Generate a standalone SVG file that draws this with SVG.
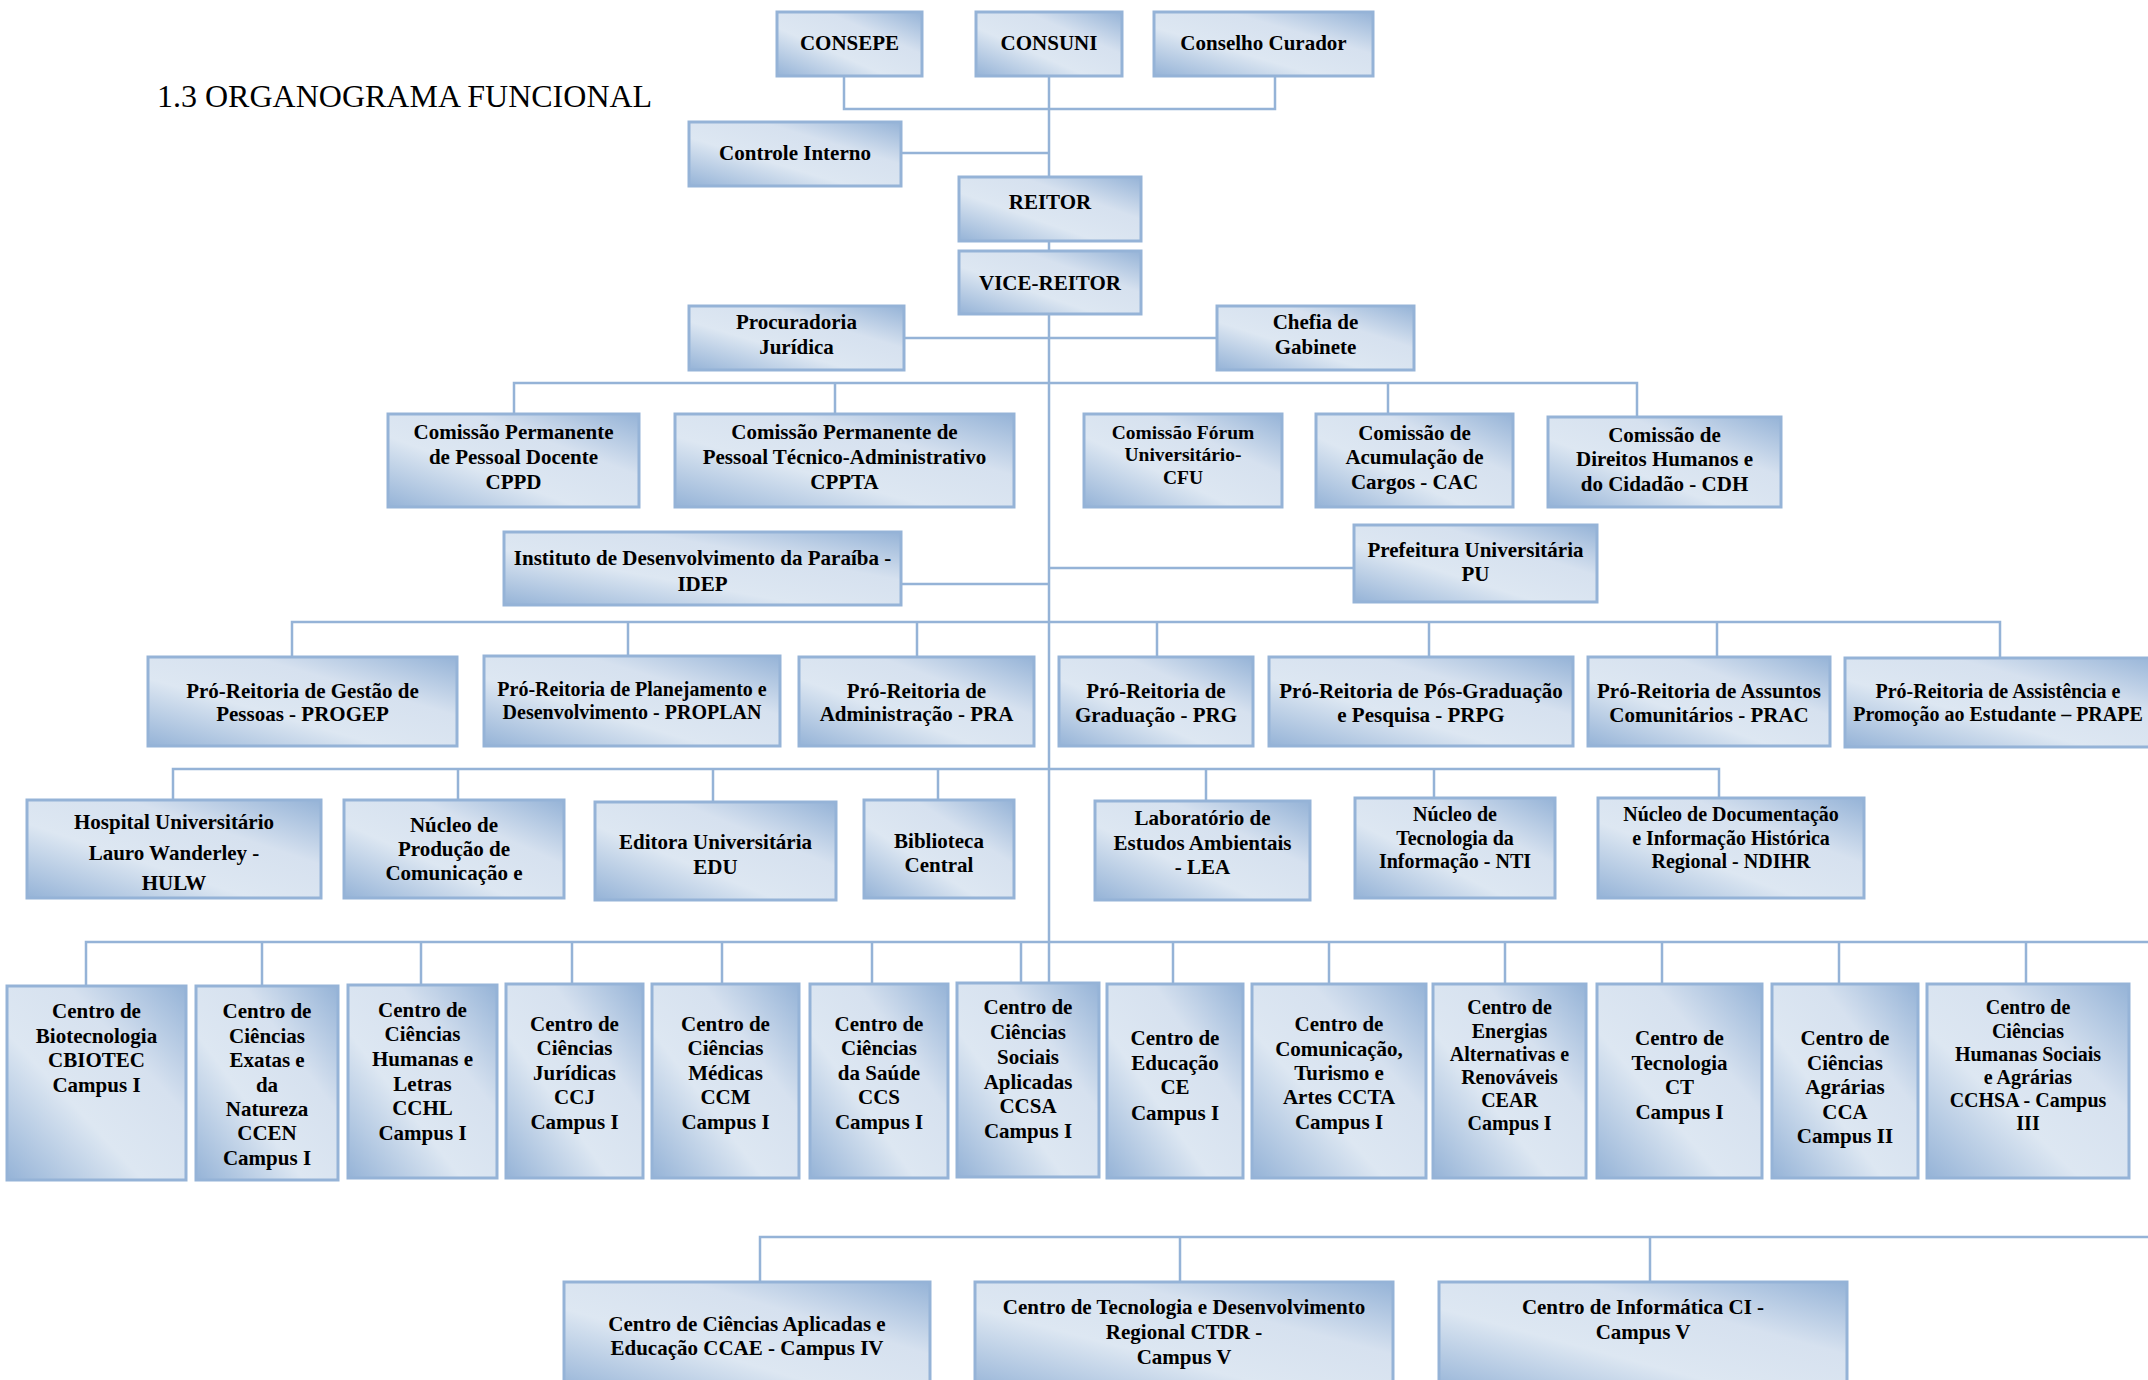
<svg xmlns="http://www.w3.org/2000/svg" width="2148" height="1380" viewBox="0 0 2148 1380">
<defs>
<linearGradient id="g" x1="1" y1="0" x2="0" y2="1">
<stop offset="0" stop-color="#95b3d7"/>
<stop offset="0.33" stop-color="#d6e1ef"/>
<stop offset="0.62" stop-color="#dde7f2"/>
<stop offset="1" stop-color="#95b3d7"/>
</linearGradient>
</defs>
<style>
.box{fill:url(#g);stroke:#95b3d7;stroke-width:3}
.t{font-family:"Liberation Serif","Times New Roman",serif;font-weight:bold;font-size:21px;text-anchor:middle;fill:#000}
.s{font-size:20px}
.c{fill:none;stroke:#95b3d7;stroke-width:2.5}
.title{font-family:"Liberation Serif","Times New Roman",serif;font-size:32px;fill:#000}
</style>
<rect width="2148" height="1380" fill="#fff"/>
<text class="title" x="157" y="107">1.3 ORGANOGRAMA FUNCIONAL</text>
<g id="connectors" class="c">
<path d="M844,76 V109 H1275 V76"/>
<path d="M1049,76 V983"/>
<path d="M901,153 H1049"/>
<path d="M904,338 H1217"/>
<path d="M514,414 V383 H1637 V417 M835,383 V414 M1388,383 V414"/>
<path d="M901,584 H1049"/>
<path d="M1049,568 H1354"/>
<path d="M292,657 V622 H2000 V658 M628,622 V656 M917,622 V657 M1157,622 V657 M1429,622 V657 M1717,622 V657"/>
<path d="M173,800 V769 H1719 V798 M458,769 V800 M713,769 V802 M938,769 V800 M1206,769 V801 M1434,769 V798"/>
<path d="M86,986 V942 H2148 M262,942 V986 M421,942 V985 M572,942 V984 M722,942 V984 M872,942 V984 M1021,942 V983 M1173,942 V984 M1329,942 V984 M1505,942 V984 M1662,942 V984 M1839,942 V984 M2026,942 V984"/>
<path d="M760,1282 V1237 H2148 M1180,1237 V1282 M1650,1237 V1282"/>
</g>
<g id="consepe"><rect class="box" x="777" y="12" width="145" height="64"/><text class="t" x="849.5" y="50">CONSEPE</text></g>
<g id="consuni"><rect class="box" x="976" y="12" width="146" height="64"/><text class="t" x="1049" y="50">CONSUNI</text></g>
<g id="curador"><rect class="box" x="1154" y="12" width="219" height="64"/><text class="t" x="1263.5" y="50">Conselho Curador</text></g>
<g id="controle"><rect class="box" x="689" y="122" width="212" height="64"/><text class="t" x="795" y="160">Controle Interno</text></g>
<g id="reitor"><rect class="box" x="959" y="177" width="182" height="64"/><text class="t" x="1050" y="209">REITOR</text></g>
<g id="vice"><rect class="box" x="959" y="251" width="182" height="63"/><text class="t" x="1050" y="290">VICE-REITOR</text></g>
<g id="procuradoria"><rect class="box" x="689" y="306" width="215" height="64"/><text class="t"><tspan x="796.5" y="329">Procuradoria</tspan><tspan x="796.5" y="354">Jurídica</tspan></text></g>
<g id="chefia"><rect class="box" x="1217" y="306" width="197" height="64"/><text class="t"><tspan x="1315.5" y="329">Chefia de</tspan><tspan x="1315.5" y="354">Gabinete</tspan></text></g>
<g id="cppd"><rect class="box" x="388" y="414" width="251" height="93"/><text class="t"><tspan x="513.5" y="439">Comissão Permanente</tspan><tspan x="513.5" y="464">de Pessoal Docente</tspan><tspan x="513.5" y="489">CPPD</tspan></text></g>
<g id="cppta"><rect class="box" x="675" y="414" width="339" height="93"/><text class="t"><tspan x="844.5" y="439">Comissão Permanente de</tspan><tspan x="844.5" y="464">Pessoal Técnico-Administrativo</tspan><tspan x="844.5" y="489">CPPTA</tspan></text></g>
<g id="cfu"><rect class="box" x="1084" y="414" width="198" height="93"/><text class="t" style="font-size:19.5px"><tspan x="1183" y="439">Comissão Fórum</tspan><tspan x="1183" y="461">Universitário-</tspan><tspan x="1183" y="484">CFU</tspan></text></g>
<g id="cac"><rect class="box" x="1316" y="414" width="197" height="93"/><text class="t"><tspan x="1414.5" y="440">Comissão de</tspan><tspan x="1414.5" y="464">Acumulação de</tspan><tspan x="1414.5" y="489">Cargos - CAC</tspan></text></g>
<g id="cdh"><rect class="box" x="1548" y="417" width="233" height="90"/><text class="t"><tspan x="1664.5" y="442">Comissão de</tspan><tspan x="1664.5" y="466">Direitos Humanos e</tspan><tspan x="1664.5" y="491">do Cidadão - CDH</tspan></text></g>
<g id="idep"><rect class="box" x="504" y="532" width="397" height="73"/><text class="t"><tspan x="702.5" y="565">Instituto de Desenvolvimento da Paraíba -</tspan><tspan x="702.5" y="591">IDEP</tspan></text></g>
<g id="pu"><rect class="box" x="1354" y="525" width="243" height="77"/><text class="t"><tspan x="1475.5" y="557">Prefeitura Universitária</tspan><tspan x="1475.5" y="581">PU</tspan></text></g>
<g id="progep"><rect class="box" x="148" y="657" width="309" height="89"/><text class="t"><tspan x="302.5" y="698">Pró-Reitoria de Gestão de</tspan><tspan x="302.5" y="721">Pessoas - PROGEP</tspan></text></g>
<g id="proplan"><rect class="box" x="484" y="656" width="296" height="90"/><text class="t s"><tspan x="632" y="696">Pró-Reitoria de Planejamento e</tspan><tspan x="632" y="719">Desenvolvimento - PROPLAN</tspan></text></g>
<g id="pra"><rect class="box" x="799" y="657" width="235" height="89"/><text class="t"><tspan x="916.5" y="698">Pró-Reitoria de</tspan><tspan x="916.5" y="721">Administração - PRA</tspan></text></g>
<g id="prg"><rect class="box" x="1059" y="657" width="194" height="89"/><text class="t"><tspan x="1156" y="698">Pró-Reitoria de</tspan><tspan x="1156" y="722">Graduação - PRG</tspan></text></g>
<g id="prpg"><rect class="box" x="1269" y="657" width="304" height="89"/><text class="t"><tspan x="1421" y="698">Pró-Reitoria de Pós-Graduação</tspan><tspan x="1421" y="722">e Pesquisa - PRPG</tspan></text></g>
<g id="prac"><rect class="box" x="1588" y="657" width="242" height="89"/><text class="t"><tspan x="1709" y="698">Pró-Reitoria de Assuntos</tspan><tspan x="1709" y="722">Comunitários - PRAC</tspan></text></g>
<g id="prape"><rect class="box" x="1845" y="658" width="320" height="89"/><text class="t s"><tspan x="1998" y="698">Pró-Reitoria de Assistência e</tspan><tspan x="1998" y="721">Promoção ao Estudante – PRAPE</tspan></text></g>
<g id="hulw"><rect class="box" x="27" y="800" width="294" height="98"/><text class="t"><tspan x="174" y="829">Hospital Universitário</tspan><tspan x="174" y="860">Lauro Wanderley -</tspan><tspan x="174" y="890">HULW</tspan></text></g>
<g id="nuppo"><rect class="box" x="344" y="800" width="220" height="98"/><text class="t"><tspan x="454" y="832">Núcleo de</tspan><tspan x="454" y="856">Produção de</tspan><tspan x="454" y="880">Comunicação e</tspan></text></g>
<g id="edu"><rect class="box" x="595" y="802" width="241" height="98"/><text class="t"><tspan x="715.5" y="849">Editora Universitária</tspan><tspan x="715.5" y="874">EDU</tspan></text></g>
<g id="biblioteca"><rect class="box" x="864" y="800" width="150" height="98"/><text class="t"><tspan x="939" y="848">Biblioteca</tspan><tspan x="939" y="872">Central</tspan></text></g>
<g id="lea"><rect class="box" x="1095" y="801" width="215" height="99"/><text class="t"><tspan x="1202.5" y="825">Laboratório de</tspan><tspan x="1202.5" y="850">Estudos Ambientais</tspan><tspan x="1202.5" y="874">- LEA</tspan></text></g>
<g id="nti"><rect class="box" x="1355" y="798" width="200" height="100"/><text class="t s"><tspan x="1455" y="821">Núcleo de</tspan><tspan x="1455" y="845">Tecnologia da</tspan><tspan x="1455" y="868">Informação - NTI</tspan></text></g>
<g id="ndihr"><rect class="box" x="1598" y="798" width="266" height="100"/><text class="t s"><tspan x="1731" y="821">Núcleo de Documentação</tspan><tspan x="1731" y="845">e Informação Histórica</tspan><tspan x="1731" y="868">Regional - NDIHR</tspan></text></g>
<g id="cbiotec"><rect class="box" x="7" y="986" width="179" height="194"/><text class="t"><tspan x="96.5" y="1018">Centro de</tspan><tspan x="96.5" y="1043">Biotecnologia</tspan><tspan x="96.5" y="1067">CBIOTEC</tspan><tspan x="96.5" y="1092">Campus I</tspan></text></g>
<g id="ccen"><rect class="box" x="196" y="986" width="142" height="194"/><text class="t"><tspan x="267" y="1018">Centro de</tspan><tspan x="267" y="1043">Ciências</tspan><tspan x="267" y="1067">Exatas e</tspan><tspan x="267" y="1092">da</tspan><tspan x="267" y="1116">Natureza</tspan><tspan x="267" y="1140">CCEN</tspan><tspan x="267" y="1165">Campus I</tspan></text></g>
<g id="cchl"><rect class="box" x="348" y="985" width="149" height="193"/><text class="t"><tspan x="422.5" y="1017">Centro de</tspan><tspan x="422.5" y="1041">Ciências</tspan><tspan x="422.5" y="1066">Humanas e</tspan><tspan x="422.5" y="1091">Letras</tspan><tspan x="422.5" y="1115">CCHL</tspan><tspan x="422.5" y="1140">Campus I</tspan></text></g>
<g id="ccj"><rect class="box" x="506" y="984" width="137" height="194"/><text class="t"><tspan x="574.5" y="1031">Centro de</tspan><tspan x="574.5" y="1055">Ciências</tspan><tspan x="574.5" y="1080">Jurídicas</tspan><tspan x="574.5" y="1104">CCJ</tspan><tspan x="574.5" y="1129">Campus I</tspan></text></g>
<g id="ccm"><rect class="box" x="652" y="984" width="147" height="194"/><text class="t"><tspan x="725.5" y="1031">Centro de</tspan><tspan x="725.5" y="1055">Ciências</tspan><tspan x="725.5" y="1080">Médicas</tspan><tspan x="725.5" y="1104">CCM</tspan><tspan x="725.5" y="1129">Campus I</tspan></text></g>
<g id="ccs"><rect class="box" x="810" y="984" width="138" height="194"/><text class="t"><tspan x="879" y="1031">Centro de</tspan><tspan x="879" y="1055">Ciências</tspan><tspan x="879" y="1080">da Saúde</tspan><tspan x="879" y="1104">CCS</tspan><tspan x="879" y="1129">Campus I</tspan></text></g>
<g id="ccsa"><rect class="box" x="957" y="983" width="142" height="194"/><text class="t"><tspan x="1028" y="1014">Centro de</tspan><tspan x="1028" y="1039">Ciências</tspan><tspan x="1028" y="1064">Sociais</tspan><tspan x="1028" y="1089">Aplicadas</tspan><tspan x="1028" y="1113">CCSA</tspan><tspan x="1028" y="1138">Campus I</tspan></text></g>
<g id="ce"><rect class="box" x="1107" y="984" width="136" height="194"/><text class="t"><tspan x="1175" y="1045">Centro de</tspan><tspan x="1175" y="1070">Educação</tspan><tspan x="1175" y="1094">CE</tspan><tspan x="1175" y="1120">Campus I</tspan></text></g>
<g id="ccta"><rect class="box" x="1252" y="984" width="174" height="194"/><text class="t"><tspan x="1339" y="1031">Centro de</tspan><tspan x="1339" y="1056">Comunicação,</tspan><tspan x="1339" y="1080">Turismo e</tspan><tspan x="1339" y="1104">Artes CCTA</tspan><tspan x="1339" y="1129">Campus I</tspan></text></g>
<g id="cear"><rect class="box" x="1433" y="984" width="153" height="194"/><text class="t s"><tspan x="1509.5" y="1014">Centro de</tspan><tspan x="1509.5" y="1038">Energias</tspan><tspan x="1509.5" y="1061">Alternativas e</tspan><tspan x="1509.5" y="1084">Renováveis</tspan><tspan x="1509.5" y="1107">CEAR</tspan><tspan x="1509.5" y="1130">Campus I</tspan></text></g>
<g id="ct"><rect class="box" x="1597" y="984" width="165" height="194"/><text class="t"><tspan x="1679.5" y="1045">Centro de</tspan><tspan x="1679.5" y="1070">Tecnologia</tspan><tspan x="1679.5" y="1094">CT</tspan><tspan x="1679.5" y="1119">Campus I</tspan></text></g>
<g id="cca"><rect class="box" x="1772" y="984" width="146" height="194"/><text class="t"><tspan x="1845" y="1045">Centro de</tspan><tspan x="1845" y="1070">Ciências</tspan><tspan x="1845" y="1094">Agrárias</tspan><tspan x="1845" y="1119">CCA</tspan><tspan x="1845" y="1143">Campus II</tspan></text></g>
<g id="cchsa"><rect class="box" x="1927" y="984" width="202" height="194"/><text class="t s"><tspan x="2028" y="1014">Centro de</tspan><tspan x="2028" y="1038">Ciências</tspan><tspan x="2028" y="1061">Humanas Sociais</tspan><tspan x="2028" y="1084">e Agrárias</tspan><tspan x="2028" y="1107">CCHSA - Campus</tspan><tspan x="2028" y="1130">III</tspan></text></g>
<g id="ccae"><rect class="box" x="564" y="1282" width="366" height="110"/><text class="t"><tspan x="747" y="1331">Centro de Ciências Aplicadas e</tspan><tspan x="747" y="1355">Educação CCAE - Campus IV</tspan></text></g>
<g id="ctdr"><rect class="box" x="975" y="1282" width="418" height="110"/><text class="t"><tspan x="1184" y="1314">Centro de Tecnologia e Desenvolvimento</tspan><tspan x="1184" y="1339">Regional CTDR -</tspan><tspan x="1184" y="1364">Campus V</tspan></text></g>
<g id="ci"><rect class="box" x="1439" y="1282" width="408" height="110"/><text class="t"><tspan x="1643" y="1314">Centro de Informática CI -</tspan><tspan x="1643" y="1339">Campus V</tspan></text></g>
</svg>
